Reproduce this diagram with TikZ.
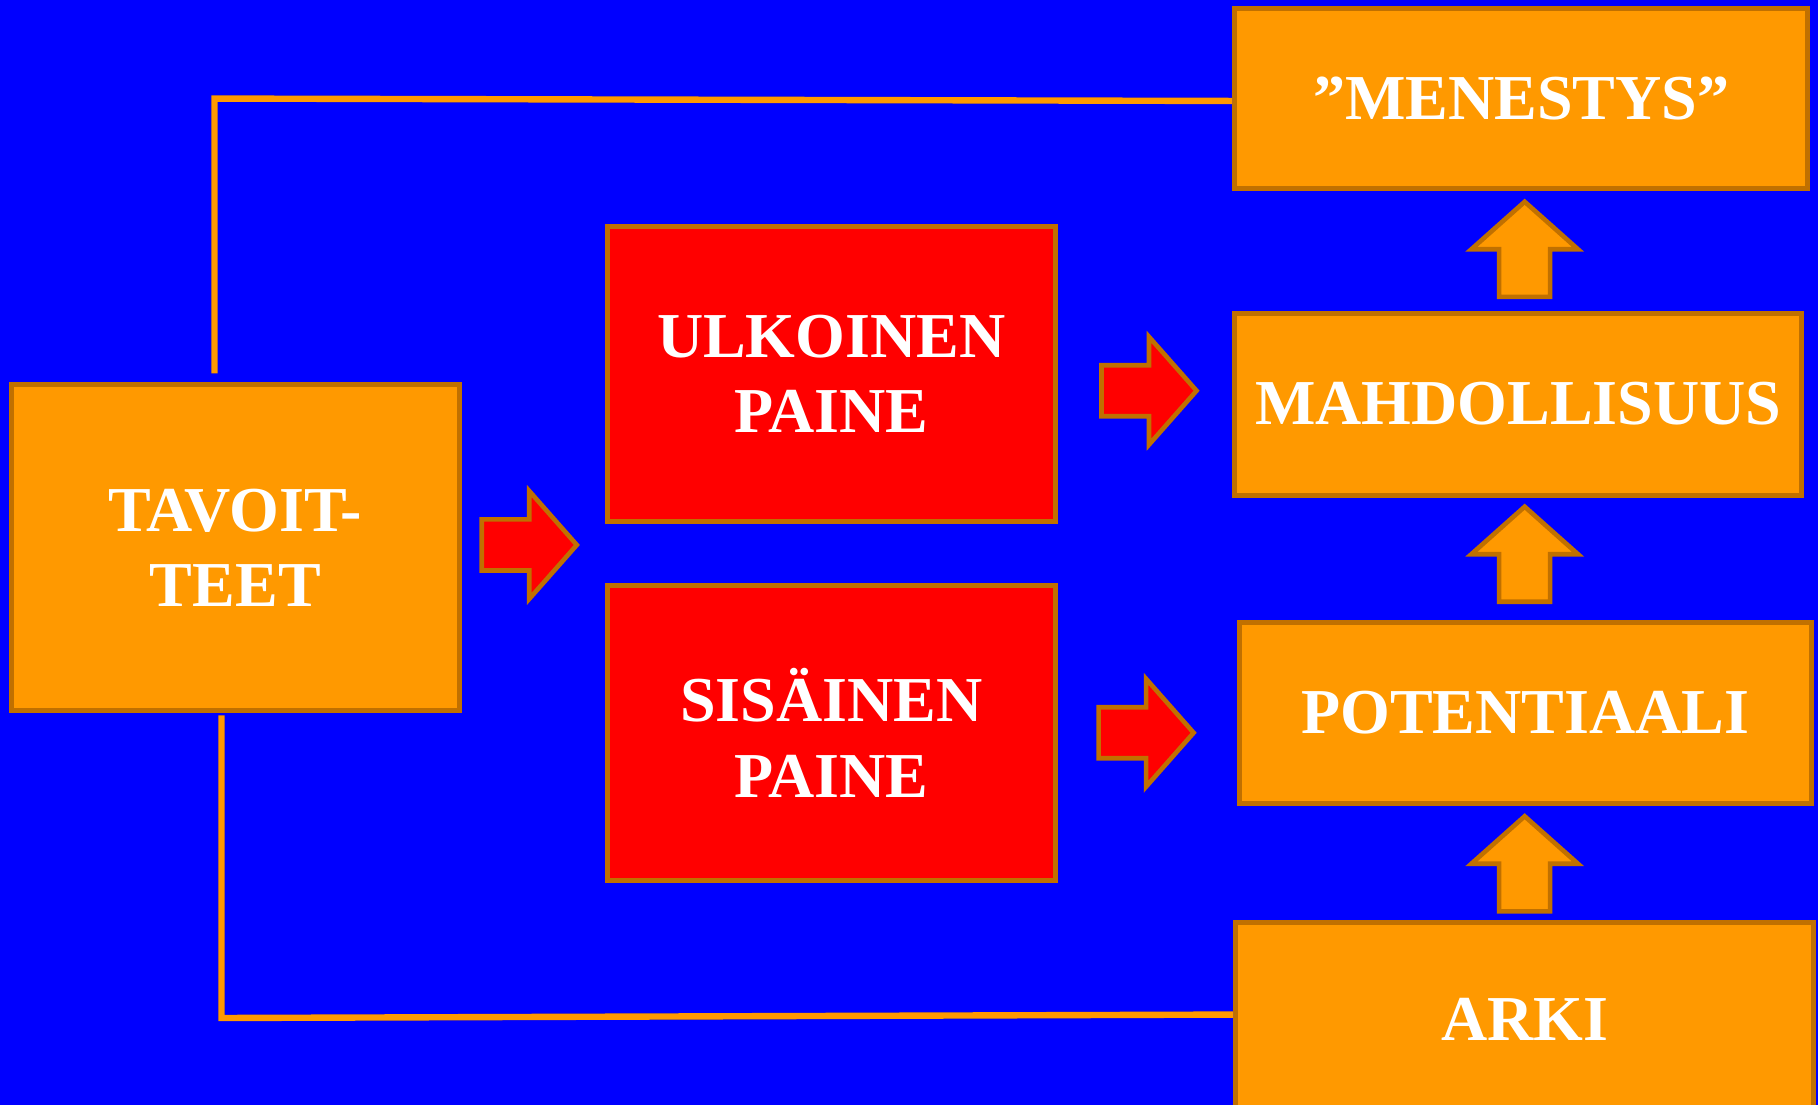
\documentclass[tikz,border=0pt]{standalone}
\usepackage{fontspec}
\setmainfont{Liberation Serif}
\definecolor{bgblue}{RGB}{0,0,255}
\definecolor{orng}{RGB}{255,153,0}
\definecolor{edge}{RGB}{192,112,0}
\definecolor{rd}{RGB}{255,0,0}
\definecolor{shad}{RGB}{0,0,170}
\def\un{0.5797pt}
\tikzset{
  box/.style n args={3}{draw=edge, line width=2.5pt, fill=#1, rectangle,
    minimum width=#2*\un, minimum height=#3*\un, inner sep=0pt,
    text=white, font=\fontsize{32}{37.7}\selectfont\bfseries, align=center},
  conn/.style={draw=orng, line width=3.2pt},
  connshadow/.style={draw=shad, line width=3.2pt, opacity=0.7},
  redarrow/.style={fill=rd, draw=edge, line width=2.3pt, line join=miter},
  orarrow/.style={fill=orng, draw=edge, line width=2.3pt, line join=miter},
  rarrow/.pic={\path[redarrow] (-41,-22) -- (0,-22) -- (0,-46.5) -- (41,0) -- (0,46.5) -- (0,22) -- (-41,22) -- cycle;},
  uarrow/.pic={\path[orarrow] (-22,41) -- (-22,0) -- (-46,0) -- (0,-41) -- (46,0) -- (22,0) -- (22,41) -- cycle;}
}
\begin{document}
\begin{tikzpicture}[x=0.5797pt, y=-0.5797pt]
\fill[bgblue] (0,0) rectangle (1568,953);
\useasboundingbox (0,0) rectangle (1568,953);
\begin{scope}
\clip (0,0) rectangle (1568,953);
% nodes
\node[box={orng}{386}{281}] (tav) at (203,472.5) {TAVOIT-\\TEET};
\node[box={rd}{386}{255}] (ulk) at (717,322.5) {ULKOINEN\\PAINE};
\node[box={rd}{386}{254}] (sis) at (717,632) {SISÄINEN\\PAINE};
\node[box={orng}{494}{156}] (men) at (1312,85) {\raisebox{-2pt}{”MENESTYS”}};
\node[box={orng}{489}{157}] (mah) at (1309.5,348.5) {MAHDOLLISUUS};
\node[box={orng}{493}{156}] (pot) at (1315.5,615) {POTENTIAALI};
\node[box={orng}{498}{166}] (arki) at (1315,879) {ARKI};
% connector corners
\coordinate (tl) at (185,85);
\coordinate (tb) at (185,322);
\coordinate (bt) at (191,617);
\coordinate (bl) at (191,878);
% shadows
\draw[connshadow, shift={(2,4)}] ([yshift=-1.2pt]men.west) -- (tl) -- (tb);
\draw[connshadow, shift={(2,4)}] (bt) -- (bl) -- ([yshift=2.3pt]arki.west);
% connectors
\draw[conn] ([yshift=-1.2pt]men.west) -- (tl) -- (tb);
\draw[conn] (bt) -- (bl) -- ([yshift=2.3pt]arki.west);
% block arrows
\pic at (456.5,470) {rarrow};
\pic at (991,337) {rarrow};
\pic at (988.5,632) {rarrow};
\pic at (1315,215) {uarrow};
\pic at (1315,478) {uarrow};
\pic at (1315,745) {uarrow};
\end{scope}
\end{tikzpicture}
\end{document}
